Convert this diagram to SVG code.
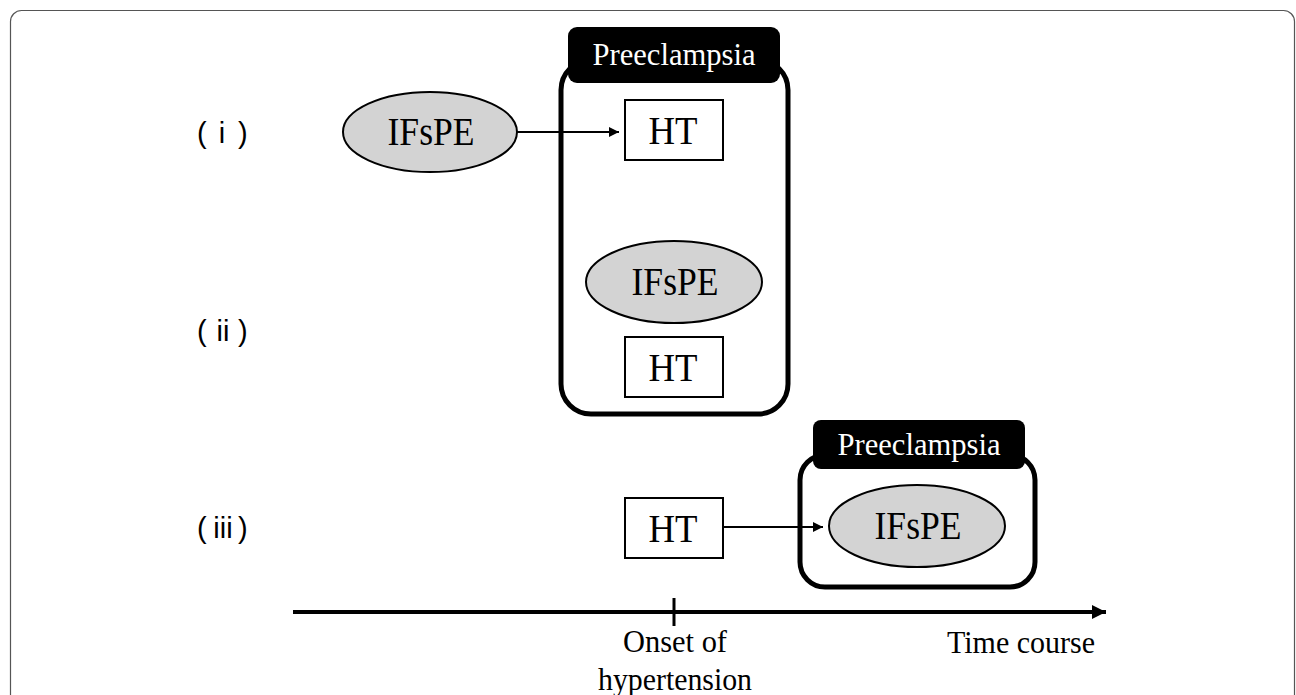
<svg xmlns="http://www.w3.org/2000/svg" width="1296" height="695" viewBox="0 0 1296 695">
  <style>
    .serif { font-family: "Liberation Serif", "Times New Roman", serif; fill: #000; }
    .sans { font-family: "Liberation Sans", Arial, sans-serif; font-size: 29px; fill: #000; }
    .node-text { font-size: 40px; text-anchor: middle; }
    .lbl-text { font-size: 31px; text-anchor: middle; fill: #fff; }
    .ax-text { font-size: 31px; text-anchor: middle; }
    .ellipse { fill: #d3d3d3; stroke: #000; stroke-width: 2; }
    .box { fill: #fff; stroke: #000; stroke-width: 2; }
    .container { fill: none; stroke: #000; stroke-width: 5; }
    .label { fill: #000; stroke: none; }
    .conn { stroke: #000; stroke-width: 2; fill: none; marker-end: url(#arr); }
  </style>
  <defs>
    <marker id="arr" viewBox="0 0 10 10" refX="10" refY="5" markerWidth="10" markerHeight="10" markerUnits="userSpaceOnUse" orient="auto">
      <path d="M0,0 L10,5 L0,10 Z" fill="#000"/>
    </marker>
    <marker id="arrBig" viewBox="0 0 14 14" refX="14" refY="7" markerWidth="14" markerHeight="14" markerUnits="userSpaceOnUse" orient="auto">
      <path d="M0,0 L14,7 L0,14 Z" fill="#000"/>
    </marker>
  </defs>

  <rect x="0" y="0" width="1296" height="695" fill="#fff"/>
  <rect id="frame" x="10.5" y="10.5" width="1284" height="740" rx="11" fill="none" stroke="#555" stroke-width="1.2"/>

  <!-- row labels -->
  <g id="label-i">
    <text class="sans" x="197" y="143">(</text>
    <text class="sans" x="222" y="143" text-anchor="middle">i</text>
    <text class="sans" x="238" y="143">)</text>
  </g>
  <g id="label-ii">
    <text class="sans" x="197" y="341">(</text>
    <text class="sans" x="223" y="341" text-anchor="middle">ii</text>
    <text class="sans" x="238" y="341">)</text>
  </g>
  <g id="label-iii">
    <text class="sans" x="197" y="538">(</text>
    <text class="sans" x="223" y="538" text-anchor="middle">iii</text>
    <text class="sans" x="238" y="538">)</text>
  </g>

  <!-- Preeclampsia container (i)/(ii) -->
  <g id="preeclampsia-1">
    <rect class="container" x="561" y="60" width="227" height="354" rx="30"/>
    <rect class="label" x="568" y="27" width="212" height="56" rx="9"/>
    <text class="serif lbl-text" x="674" y="65" textLength="163" lengthAdjust="spacingAndGlyphs">Preeclampsia</text>
  </g>

  <!-- Preeclampsia container (iii) -->
  <g id="preeclampsia-2">
    <rect class="container" x="800" y="455" width="235" height="132" rx="25"/>
    <rect class="label" x="813" y="420" width="212" height="49" rx="8"/>
    <text class="serif lbl-text" x="919" y="455" textLength="163" lengthAdjust="spacingAndGlyphs">Preeclampsia</text>
  </g>

  <g id="ifspe-i">
    <ellipse class="ellipse" cx="430" cy="132" rx="87" ry="40"/>
    <text class="serif node-text" x="431" y="145" textLength="87" lengthAdjust="spacingAndGlyphs">IFsPE</text>
  </g>
  <g id="ht-i">
    <rect class="box" x="625" y="100" width="98" height="60"/>
    <text class="serif node-text" x="673" y="144" textLength="49" lengthAdjust="spacingAndGlyphs">HT</text>
  </g>

  <g id="ifspe-ii">
    <ellipse class="ellipse" cx="674" cy="282" rx="88" ry="41"/>
    <text class="serif node-text" x="675" y="295" textLength="87" lengthAdjust="spacingAndGlyphs">IFsPE</text>
  </g>
  <g id="ht-ii">
    <rect class="box" x="625" y="337" width="98" height="60"/>
    <text class="serif node-text" x="673" y="381" textLength="49" lengthAdjust="spacingAndGlyphs">HT</text>
  </g>

  <g id="ht-iii">
    <rect class="box" x="625" y="498" width="98" height="60"/>
    <text class="serif node-text" x="673" y="542" textLength="49" lengthAdjust="spacingAndGlyphs">HT</text>
  </g>
  <g id="ifspe-iii">
    <ellipse class="ellipse" cx="917" cy="526" rx="88" ry="41"/>
    <text class="serif node-text" x="918" y="539" textLength="87" lengthAdjust="spacingAndGlyphs">IFsPE</text>
  </g>

  <g id="connectors">
    <line class="conn" x1="517" y1="132" x2="619" y2="132"/>
    <line class="conn" x1="723" y1="527" x2="823" y2="527"/>
  </g>

  <!-- time axis -->
  <g id="time-axis">
    <line x1="293" y1="612" x2="1106" y2="612" stroke="#000" stroke-width="4" marker-end="url(#arrBig)"/>
    <line x1="674" y1="598" x2="674" y2="626" stroke="#000" stroke-width="3"/>
    <text class="serif ax-text" x="675" y="652" textLength="104" lengthAdjust="spacingAndGlyphs">Onset of</text>
    <text class="serif ax-text" x="675" y="690" textLength="154" lengthAdjust="spacingAndGlyphs">hypertension</text>
    <text class="serif ax-text" x="1021" y="653" textLength="148" lengthAdjust="spacingAndGlyphs">Time course</text>
  </g>
</svg>
